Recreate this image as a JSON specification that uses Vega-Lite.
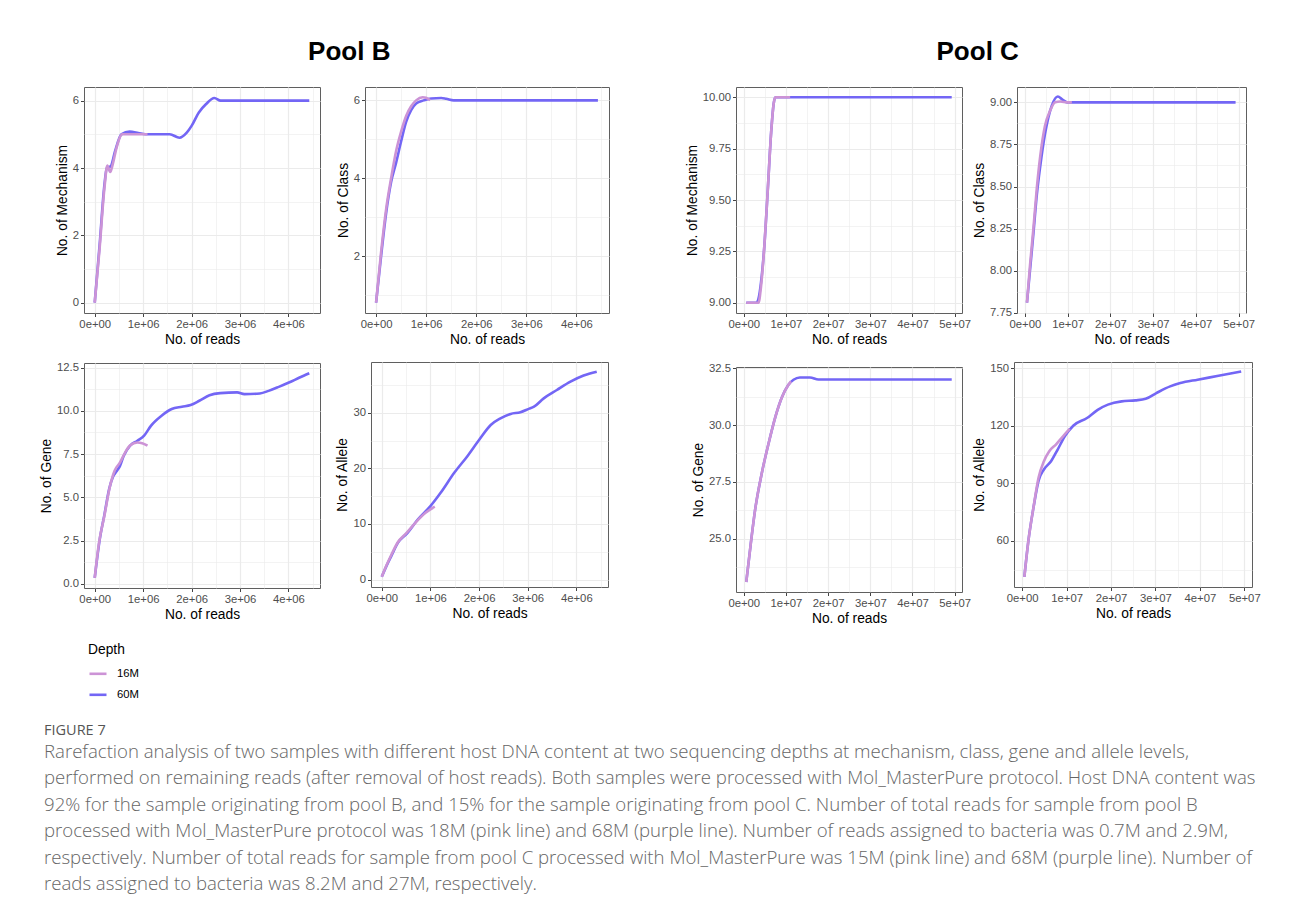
{
  "$schema": "https://vega.github.io/schema/vega-lite/v6.json",
  "padding": {"left": 39, "top": 38, "right": 5, "bottom": 5},
  "background": "white",
  "data": {"values": [
    {"pool":"B","level":"Mechanism","depth":"60M","reads":0,"count":0},
    {"pool":"B","level":"Mechanism","depth":"60M","reads":100000,"count":1.7},
    {"pool":"B","level":"Mechanism","depth":"60M","reads":200000,"count":3.5},
    {"pool":"B","level":"Mechanism","depth":"60M","reads":250000,"count":4.0},
    {"pool":"B","level":"Mechanism","depth":"60M","reads":330000,"count":4.05},
    {"pool":"B","level":"Mechanism","depth":"60M","reads":420000,"count":4.5},
    {"pool":"B","level":"Mechanism","depth":"60M","reads":550000,"count":5.0},
    {"pool":"B","level":"Mechanism","depth":"60M","reads":720000,"count":5.08},
    {"pool":"B","level":"Mechanism","depth":"60M","reads":900000,"count":5.04},
    {"pool":"B","level":"Mechanism","depth":"60M","reads":1050000,"count":5.0},
    {"pool":"B","level":"Mechanism","depth":"60M","reads":1550000,"count":5.0},
    {"pool":"B","level":"Mechanism","depth":"60M","reads":1750000,"count":4.9},
    {"pool":"B","level":"Mechanism","depth":"60M","reads":1900000,"count":5.05},
    {"pool":"B","level":"Mechanism","depth":"60M","reads":2000000,"count":5.25},
    {"pool":"B","level":"Mechanism","depth":"60M","reads":2150000,"count":5.65},
    {"pool":"B","level":"Mechanism","depth":"60M","reads":2300000,"count":5.9},
    {"pool":"B","level":"Mechanism","depth":"60M","reads":2470000,"count":6.08},
    {"pool":"B","level":"Mechanism","depth":"60M","reads":2600000,"count":6.0},
    {"pool":"B","level":"Mechanism","depth":"60M","reads":4430000,"count":6.0},
    {"pool":"B","level":"Class","depth":"60M","reads":0,"count":0.8},
    {"pool":"B","level":"Class","depth":"60M","reads":100000,"count":2.0},
    {"pool":"B","level":"Class","depth":"60M","reads":200000,"count":3.1},
    {"pool":"B","level":"Class","depth":"60M","reads":300000,"count":3.9},
    {"pool":"B","level":"Class","depth":"60M","reads":400000,"count":4.4},
    {"pool":"B","level":"Class","depth":"60M","reads":500000,"count":4.95},
    {"pool":"B","level":"Class","depth":"60M","reads":600000,"count":5.45},
    {"pool":"B","level":"Class","depth":"60M","reads":700000,"count":5.75},
    {"pool":"B","level":"Class","depth":"60M","reads":800000,"count":5.92},
    {"pool":"B","level":"Class","depth":"60M","reads":950000,"count":6.0},
    {"pool":"B","level":"Class","depth":"60M","reads":1100000,"count":6.05},
    {"pool":"B","level":"Class","depth":"60M","reads":1300000,"count":6.06},
    {"pool":"B","level":"Class","depth":"60M","reads":1400000,"count":6.04},
    {"pool":"B","level":"Class","depth":"60M","reads":1550000,"count":6.0},
    {"pool":"B","level":"Class","depth":"60M","reads":4430000,"count":6.0},
    {"pool":"B","level":"Gene","depth":"60M","reads":0,"count":0.35},
    {"pool":"B","level":"Gene","depth":"60M","reads":100000,"count":2.5},
    {"pool":"B","level":"Gene","depth":"60M","reads":200000,"count":4.0},
    {"pool":"B","level":"Gene","depth":"60M","reads":300000,"count":5.5},
    {"pool":"B","level":"Gene","depth":"60M","reads":380000,"count":6.2},
    {"pool":"B","level":"Gene","depth":"60M","reads":450000,"count":6.5},
    {"pool":"B","level":"Gene","depth":"60M","reads":520000,"count":6.8},
    {"pool":"B","level":"Gene","depth":"60M","reads":600000,"count":7.4},
    {"pool":"B","level":"Gene","depth":"60M","reads":730000,"count":7.98},
    {"pool":"B","level":"Gene","depth":"60M","reads":880000,"count":8.27},
    {"pool":"B","level":"Gene","depth":"60M","reads":1020000,"count":8.56},
    {"pool":"B","level":"Gene","depth":"60M","reads":1160000,"count":9.13},
    {"pool":"B","level":"Gene","depth":"60M","reads":1380000,"count":9.71},
    {"pool":"B","level":"Gene","depth":"60M","reads":1590000,"count":10.1},
    {"pool":"B","level":"Gene","depth":"60M","reads":1800000,"count":10.23},
    {"pool":"B","level":"Gene","depth":"60M","reads":1980000,"count":10.33},
    {"pool":"B","level":"Gene","depth":"60M","reads":2160000,"count":10.58},
    {"pool":"B","level":"Gene","depth":"60M","reads":2370000,"count":10.9},
    {"pool":"B","level":"Gene","depth":"60M","reads":2590000,"count":11.02},
    {"pool":"B","level":"Gene","depth":"60M","reads":2940000,"count":11.06},
    {"pool":"B","level":"Gene","depth":"60M","reads":3090000,"count":10.96},
    {"pool":"B","level":"Gene","depth":"60M","reads":3410000,"count":11.0},
    {"pool":"B","level":"Gene","depth":"60M","reads":3590000,"count":11.15},
    {"pool":"B","level":"Gene","depth":"60M","reads":3800000,"count":11.38},
    {"pool":"B","level":"Gene","depth":"60M","reads":4010000,"count":11.63},
    {"pool":"B","level":"Gene","depth":"60M","reads":4230000,"count":11.92},
    {"pool":"B","level":"Gene","depth":"60M","reads":4430000,"count":12.17},
    {"pool":"B","level":"Allele","depth":"60M","reads":0,"count":0.5},
    {"pool":"B","level":"Allele","depth":"60M","reads":100000,"count":2.5},
    {"pool":"B","level":"Allele","depth":"60M","reads":200000,"count":4.3},
    {"pool":"B","level":"Allele","depth":"60M","reads":330000,"count":6.6},
    {"pool":"B","level":"Allele","depth":"60M","reads":530000,"count":8.4},
    {"pool":"B","level":"Allele","depth":"60M","reads":740000,"count":10.8},
    {"pool":"B","level":"Allele","depth":"60M","reads":1000000,"count":13.2},
    {"pool":"B","level":"Allele","depth":"60M","reads":1210000,"count":15.6},
    {"pool":"B","level":"Allele","depth":"60M","reads":1490000,"count":19.2},
    {"pool":"B","level":"Allele","depth":"60M","reads":1760000,"count":22.2},
    {"pool":"B","level":"Allele","depth":"60M","reads":2000000,"count":25.1},
    {"pool":"B","level":"Allele","depth":"60M","reads":2240000,"count":27.8},
    {"pool":"B","level":"Allele","depth":"60M","reads":2440000,"count":29.0},
    {"pool":"B","level":"Allele","depth":"60M","reads":2650000,"count":29.8},
    {"pool":"B","level":"Allele","depth":"60M","reads":2850000,"count":30.1},
    {"pool":"B","level":"Allele","depth":"60M","reads":3020000,"count":30.7},
    {"pool":"B","level":"Allele","depth":"60M","reads":3130000,"count":31.1},
    {"pool":"B","level":"Allele","depth":"60M","reads":3330000,"count":32.6},
    {"pool":"B","level":"Allele","depth":"60M","reads":3600000,"count":34.1},
    {"pool":"B","level":"Allele","depth":"60M","reads":3880000,"count":35.6},
    {"pool":"B","level":"Allele","depth":"60M","reads":4150000,"count":36.7},
    {"pool":"B","level":"Allele","depth":"60M","reads":4420000,"count":37.4},
    {"pool":"C","level":"Mechanism","depth":"60M","reads":600000,"count":9.0},
    {"pool":"C","level":"Mechanism","depth":"60M","reads":3000000,"count":9.0},
    {"pool":"C","level":"Mechanism","depth":"60M","reads":3500000,"count":9.02},
    {"pool":"C","level":"Mechanism","depth":"60M","reads":4100000,"count":9.1},
    {"pool":"C","level":"Mechanism","depth":"60M","reads":4900000,"count":9.28},
    {"pool":"C","level":"Mechanism","depth":"60M","reads":5700000,"count":9.55},
    {"pool":"C","level":"Mechanism","depth":"60M","reads":6500000,"count":9.83},
    {"pool":"C","level":"Mechanism","depth":"60M","reads":7100000,"count":9.97},
    {"pool":"C","level":"Mechanism","depth":"60M","reads":7500000,"count":10.0},
    {"pool":"C","level":"Mechanism","depth":"60M","reads":49300000,"count":10.0},
    {"pool":"C","level":"Class","depth":"60M","reads":500000,"count":7.81},
    {"pool":"C","level":"Class","depth":"60M","reads":1200000,"count":8.0},
    {"pool":"C","level":"Class","depth":"60M","reads":2000000,"count":8.22},
    {"pool":"C","level":"Class","depth":"60M","reads":2800000,"count":8.45},
    {"pool":"C","level":"Class","depth":"60M","reads":3600000,"count":8.62},
    {"pool":"C","level":"Class","depth":"60M","reads":4700000,"count":8.81},
    {"pool":"C","level":"Class","depth":"60M","reads":6300000,"count":8.98},
    {"pool":"C","level":"Class","depth":"60M","reads":7700000,"count":9.035},
    {"pool":"C","level":"Class","depth":"60M","reads":8800000,"count":9.016},
    {"pool":"C","level":"Class","depth":"60M","reads":9900000,"count":9.0},
    {"pool":"C","level":"Class","depth":"60M","reads":49300000,"count":9.0},
    {"pool":"C","level":"Gene","depth":"60M","reads":600000,"count":23.1},
    {"pool":"C","level":"Gene","depth":"60M","reads":1600000,"count":24.68},
    {"pool":"C","level":"Gene","depth":"60M","reads":2700000,"count":26.28},
    {"pool":"C","level":"Gene","depth":"60M","reads":4300000,"count":27.9},
    {"pool":"C","level":"Gene","depth":"60M","reads":5900000,"count":29.2},
    {"pool":"C","level":"Gene","depth":"60M","reads":7500000,"count":30.36},
    {"pool":"C","level":"Gene","depth":"60M","reads":9000000,"count":31.2},
    {"pool":"C","level":"Gene","depth":"60M","reads":10600000,"count":31.77},
    {"pool":"C","level":"Gene","depth":"60M","reads":11800000,"count":31.99},
    {"pool":"C","level":"Gene","depth":"60M","reads":13300000,"count":32.09},
    {"pool":"C","level":"Gene","depth":"60M","reads":15700000,"count":32.09},
    {"pool":"C","level":"Gene","depth":"60M","reads":17700000,"count":32.0},
    {"pool":"C","level":"Gene","depth":"60M","reads":49300000,"count":32.0},
    {"pool":"C","level":"Allele","depth":"60M","reads":500000,"count":41.3},
    {"pool":"C","level":"Allele","depth":"60M","reads":1400000,"count":60},
    {"pool":"C","level":"Allele","depth":"60M","reads":2600000,"count":78},
    {"pool":"C","level":"Allele","depth":"60M","reads":3700000,"count":91.4},
    {"pool":"C","level":"Allele","depth":"60M","reads":4900000,"count":97.2},
    {"pool":"C","level":"Allele","depth":"60M","reads":6500000,"count":101.5},
    {"pool":"C","level":"Allele","depth":"60M","reads":8000000,"count":107.6},
    {"pool":"C","level":"Allele","depth":"60M","reads":9600000,"count":114.5},
    {"pool":"C","level":"Allele","depth":"60M","reads":11500000,"count":120},
    {"pool":"C","level":"Allele","depth":"60M","reads":14600000,"count":124},
    {"pool":"C","level":"Allele","depth":"60M","reads":17000000,"count":128.3},
    {"pool":"C","level":"Allele","depth":"60M","reads":19300000,"count":131},
    {"pool":"C","level":"Allele","depth":"60M","reads":22400000,"count":132.7},
    {"pool":"C","level":"Allele","depth":"60M","reads":25500000,"count":133.2},
    {"pool":"C","level":"Allele","depth":"60M","reads":27800000,"count":134},
    {"pool":"C","level":"Allele","depth":"60M","reads":30200000,"count":137},
    {"pool":"C","level":"Allele","depth":"60M","reads":33300000,"count":140.5},
    {"pool":"C","level":"Allele","depth":"60M","reads":35600000,"count":142.2},
    {"pool":"C","level":"Allele","depth":"60M","reads":39500000,"count":144},
    {"pool":"C","level":"Allele","depth":"60M","reads":44200000,"count":146},
    {"pool":"C","level":"Allele","depth":"60M","reads":49300000,"count":148.3},
    {"pool":"B","level":"Mechanism","depth":"16M","reads":0,"count":0},
    {"pool":"B","level":"Mechanism","depth":"16M","reads":100000,"count":1.6},
    {"pool":"B","level":"Mechanism","depth":"16M","reads":200000,"count":3.4},
    {"pool":"B","level":"Mechanism","depth":"16M","reads":260000,"count":4.07},
    {"pool":"B","level":"Mechanism","depth":"16M","reads":320000,"count":3.88},
    {"pool":"B","level":"Mechanism","depth":"16M","reads":370000,"count":4.1},
    {"pool":"B","level":"Mechanism","depth":"16M","reads":450000,"count":4.6},
    {"pool":"B","level":"Mechanism","depth":"16M","reads":570000,"count":5.0},
    {"pool":"B","level":"Mechanism","depth":"16M","reads":1090000,"count":5.0},
    {"pool":"B","level":"Class","depth":"16M","reads":0,"count":0.8},
    {"pool":"B","level":"Class","depth":"16M","reads":100000,"count":2.1},
    {"pool":"B","level":"Class","depth":"16M","reads":200000,"count":3.2},
    {"pool":"B","level":"Class","depth":"16M","reads":300000,"count":4.0},
    {"pool":"B","level":"Class","depth":"16M","reads":400000,"count":4.7},
    {"pool":"B","level":"Class","depth":"16M","reads":500000,"count":5.2},
    {"pool":"B","level":"Class","depth":"16M","reads":600000,"count":5.6},
    {"pool":"B","level":"Class","depth":"16M","reads":700000,"count":5.85},
    {"pool":"B","level":"Class","depth":"16M","reads":800000,"count":6.0},
    {"pool":"B","level":"Class","depth":"16M","reads":930000,"count":6.08},
    {"pool":"B","level":"Class","depth":"16M","reads":1000000,"count":6.07},
    {"pool":"B","level":"Class","depth":"16M","reads":1080000,"count":6.0},
    {"pool":"B","level":"Gene","depth":"16M","reads":0,"count":0.35},
    {"pool":"B","level":"Gene","depth":"16M","reads":90000,"count":2.4},
    {"pool":"B","level":"Gene","depth":"16M","reads":200000,"count":3.94},
    {"pool":"B","level":"Gene","depth":"16M","reads":310000,"count":5.58},
    {"pool":"B","level":"Gene","depth":"16M","reads":410000,"count":6.54},
    {"pool":"B","level":"Gene","depth":"16M","reads":520000,"count":7.0},
    {"pool":"B","level":"Gene","depth":"16M","reads":630000,"count":7.6},
    {"pool":"B","level":"Gene","depth":"16M","reads":730000,"count":8.0},
    {"pool":"B","level":"Gene","depth":"16M","reads":880000,"count":8.17},
    {"pool":"B","level":"Gene","depth":"16M","reads":980000,"count":8.13},
    {"pool":"B","level":"Gene","depth":"16M","reads":1090000,"count":7.98},
    {"pool":"B","level":"Allele","depth":"16M","reads":0,"count":0.5},
    {"pool":"B","level":"Allele","depth":"16M","reads":100000,"count":2.6},
    {"pool":"B","level":"Allele","depth":"16M","reads":200000,"count":4.5},
    {"pool":"B","level":"Allele","depth":"16M","reads":330000,"count":6.7},
    {"pool":"B","level":"Allele","depth":"16M","reads":500000,"count":8.3},
    {"pool":"B","level":"Allele","depth":"16M","reads":700000,"count":10.3},
    {"pool":"B","level":"Allele","depth":"16M","reads":900000,"count":12.0},
    {"pool":"B","level":"Allele","depth":"16M","reads":1090000,"count":13.1},
    {"pool":"C","level":"Mechanism","depth":"16M","reads":600000,"count":9.0},
    {"pool":"C","level":"Mechanism","depth":"16M","reads":3500000,"count":9.0},
    {"pool":"C","level":"Mechanism","depth":"16M","reads":4100000,"count":9.08},
    {"pool":"C","level":"Mechanism","depth":"16M","reads":4900000,"count":9.28},
    {"pool":"C","level":"Mechanism","depth":"16M","reads":5700000,"count":9.55},
    {"pool":"C","level":"Mechanism","depth":"16M","reads":6500000,"count":9.83},
    {"pool":"C","level":"Mechanism","depth":"16M","reads":7100000,"count":9.97},
    {"pool":"C","level":"Mechanism","depth":"16M","reads":7500000,"count":10.0},
    {"pool":"C","level":"Mechanism","depth":"16M","reads":11000000,"count":10.0},
    {"pool":"C","level":"Class","depth":"16M","reads":500000,"count":7.81},
    {"pool":"C","level":"Class","depth":"16M","reads":1200000,"count":8.03},
    {"pool":"C","level":"Class","depth":"16M","reads":2000000,"count":8.25},
    {"pool":"C","level":"Class","depth":"16M","reads":2800000,"count":8.49},
    {"pool":"C","level":"Class","depth":"16M","reads":3600000,"count":8.68},
    {"pool":"C","level":"Class","depth":"16M","reads":4700000,"count":8.86},
    {"pool":"C","level":"Class","depth":"16M","reads":5900000,"count":8.95},
    {"pool":"C","level":"Class","depth":"16M","reads":7100000,"count":9.0},
    {"pool":"C","level":"Class","depth":"16M","reads":8300000,"count":9.005},
    {"pool":"C","level":"Class","depth":"16M","reads":9900000,"count":9.0},
    {"pool":"C","level":"Class","depth":"16M","reads":11000000,"count":9.0},
    {"pool":"C","level":"Gene","depth":"16M","reads":600000,"count":23.1},
    {"pool":"C","level":"Gene","depth":"16M","reads":1600000,"count":24.68},
    {"pool":"C","level":"Gene","depth":"16M","reads":2700000,"count":26.28},
    {"pool":"C","level":"Gene","depth":"16M","reads":4300000,"count":27.9},
    {"pool":"C","level":"Gene","depth":"16M","reads":5900000,"count":29.2},
    {"pool":"C","level":"Gene","depth":"16M","reads":7500000,"count":30.36},
    {"pool":"C","level":"Gene","depth":"16M","reads":9000000,"count":31.2},
    {"pool":"C","level":"Gene","depth":"16M","reads":10600000,"count":31.77},
    {"pool":"C","level":"Gene","depth":"16M","reads":11200000,"count":31.92},
    {"pool":"C","level":"Allele","depth":"16M","reads":500000,"count":41.3},
    {"pool":"C","level":"Allele","depth":"16M","reads":1400000,"count":60},
    {"pool":"C","level":"Allele","depth":"16M","reads":2600000,"count":78.2},
    {"pool":"C","level":"Allele","depth":"16M","reads":3700000,"count":93},
    {"pool":"C","level":"Allele","depth":"16M","reads":4900000,"count":101.5},
    {"pool":"C","level":"Allele","depth":"16M","reads":6100000,"count":106.7},
    {"pool":"C","level":"Allele","depth":"16M","reads":7600000,"count":110.2},
    {"pool":"C","level":"Allele","depth":"16M","reads":9200000,"count":114.5},
    {"pool":"C","level":"Allele","depth":"16M","reads":10700000,"count":118.3}
  ]},
  "title": {
    "text": "FIGURE 7",
    "subtitle": [
      "Rarefaction analysis of two samples with different host DNA content at two sequencing depths at mechanism, class, gene and allele levels,",
      "performed on remaining reads (after removal of host reads). Both samples were processed with Mol_MasterPure protocol. Host DNA content was",
      "92% for the sample originating from pool B, and 15% for the sample originating from pool C. Number of total reads for sample from pool B",
      "processed with Mol_MasterPure protocol was 18M (pink line) and 68M (purple line). Number of reads assigned to bacteria was 0.7M and 2.9M,",
      "respectively. Number of total reads for sample from pool C processed with Mol_MasterPure was 15M (pink line) and 68M (purple line). Number of",
      "reads assigned to bacteria was 8.2M and 27M, respectively."
    ],
    "orient": "bottom",
    "anchor": "start",
    "dx": 5,
    "font": "Open Sans",
    "fontSize": 14.5,
    "fontWeight": "normal",
    "color": "#555555",
    "subtitleFont": "Open Sans",
    "subtitleFontSize": 18.6,
    "subtitleFontWeight": 300,
    "subtitleColor": "#666666",
    "subtitleLineHeight": 26.5,
    "subtitlePadding": 4,
    "offset": 23
  },
  "spacing": 74,
  "hconcat": [
    {
      "title": {"text": "Pool B", "font": "Liberation Sans", "fontSize": 26, "fontWeight": "bold", "anchor": "middle", "dx": 25, "offset": 22, "color": "#000000"},
      "columns": 2,
      "align": "none",
      "spacing": {"row": 13, "column": 14},
      "concat": [
        {
          "width": 236, "height": 226,
          "transform": [{"filter": "datum.pool == 'B' && datum.level == 'Mechanism'"}],
          "mark": {"type": "line", "interpolate": "monotone", "strokeWidth": 2.6, "clip": true},
          "encoding": {
            "x": {"field": "reads", "type": "quantitative", "scale": {"domain": [-221500, 4651500], "nice": false, "zero": false},
              "axis": {"title": "No. of reads", "values": [0, 500000, 1000000, 1500000, 2000000, 2500000, 3000000, 3500000, 4000000, 4500000],
                "labelExpr": "datum.value % 1000000 != 0 ? '' : replace(format(datum.value, '.0e'), 'e+', 'e+0')",
                "tickOpacity": {"condition": {"test": "datum.value % 1000000 != 0", "value": 0}, "value": 1},
                "gridWidth": {"condition": {"test": "datum.value % 1000000 != 0", "value": 0.6}, "value": 1.2}}},
            "y": {"field": "count", "type": "quantitative", "scale": {"domain": [-0.305, 6.405], "nice": false, "zero": false},
              "axis": {"title": "No. of Mechanism", "values": [0, 1, 2, 3, 4, 5, 6],
                "labelExpr": "datum.value % 2 != 0 ? '' : format(datum.value, 'd')",
                "tickOpacity": {"condition": {"test": "datum.value % 2 != 0", "value": 0}, "value": 1},
                "gridWidth": {"condition": {"test": "datum.value % 2 != 0", "value": 0.6}, "value": 1.2}}},
            "color": {"field": "depth", "type": "nominal", "scale": {"domain": ["16M", "60M"], "range": ["#CC93D6", "#7366F5"]},
              "legend": {"title": "Depth", "orient": "none", "legendX": 4, "legendY": 556}}
          }
        },
        {
          "width": 244, "height": 226,
          "transform": [{"filter": "datum.pool == 'B' && datum.level == 'Class'"}],
          "mark": {"type": "line", "interpolate": "monotone", "strokeWidth": 2.6, "clip": true},
          "encoding": {
            "x": {"field": "reads", "type": "quantitative", "scale": {"domain": [-221500, 4651500], "nice": false, "zero": false},
              "axis": {"title": "No. of reads", "values": [0, 500000, 1000000, 1500000, 2000000, 2500000, 3000000, 3500000, 4000000, 4500000],
                "labelExpr": "datum.value % 1000000 != 0 ? '' : replace(format(datum.value, '.0e'), 'e+', 'e+0')",
                "tickOpacity": {"condition": {"test": "datum.value % 1000000 != 0", "value": 0}, "value": 1},
                "gridWidth": {"condition": {"test": "datum.value % 1000000 != 0", "value": 0.6}, "value": 1.2}}},
            "y": {"field": "count", "type": "quantitative", "scale": {"domain": [0.536, 6.344], "nice": false, "zero": false},
              "axis": {"title": "No. of Class", "values": [1, 2, 3, 4, 5, 6],
                "labelExpr": "datum.value % 2 != 0 ? '' : format(datum.value, 'd')",
                "tickOpacity": {"condition": {"test": "datum.value % 2 != 0", "value": 0}, "value": 1},
                "gridWidth": {"condition": {"test": "datum.value % 2 != 0", "value": 0.6}, "value": 1.2}}},
            "color": {"field": "depth", "type": "nominal", "scale": {"domain": ["16M", "60M"], "range": ["#CC93D6", "#7366F5"]},
              "legend": {"title": "Depth", "orient": "none", "legendX": 4, "legendY": 556}}
          }
        },
        {
          "width": 236, "height": 225,
          "transform": [{"filter": "datum.pool == 'B' && datum.level == 'Gene'"}],
          "mark": {"type": "line", "interpolate": "monotone", "strokeWidth": 2.6, "clip": true},
          "encoding": {
            "x": {"field": "reads", "type": "quantitative", "scale": {"domain": [-221500, 4651500], "nice": false, "zero": false},
              "axis": {"title": "No. of reads", "values": [0, 500000, 1000000, 1500000, 2000000, 2500000, 3000000, 3500000, 4000000, 4500000],
                "labelExpr": "datum.value % 1000000 != 0 ? '' : replace(format(datum.value, '.0e'), 'e+', 'e+0')",
                "tickOpacity": {"condition": {"test": "datum.value % 1000000 != 0", "value": 0}, "value": 1},
                "gridWidth": {"condition": {"test": "datum.value % 1000000 != 0", "value": 0.6}, "value": 1.2}}},
            "y": {"field": "count", "type": "quantitative", "scale": {"domain": [-0.24, 12.76], "nice": false, "zero": false},
              "axis": {"title": "No. of Gene", "values": [0, 1.25, 2.5, 3.75, 5, 6.25, 7.5, 8.75, 10, 11.25, 12.5],
                "labelExpr": "datum.value % 2.5 != 0 ? '' : format(datum.value, '.1f')",
                "tickOpacity": {"condition": {"test": "datum.value % 2.5 != 0", "value": 0}, "value": 1},
                "gridWidth": {"condition": {"test": "datum.value % 2.5 != 0", "value": 0.6}, "value": 1.2}}},
            "color": {"field": "depth", "type": "nominal", "scale": {"domain": ["16M", "60M"], "range": ["#CC93D6", "#7366F5"]},
              "legend": {"title": "Depth", "orient": "none", "legendX": 4, "legendY": 556}}
          }
        },
        {
          "width": 237, "height": 225,
          "transform": [{"filter": "datum.pool == 'B' && datum.level == 'Allele'"}],
          "mark": {"type": "line", "interpolate": "monotone", "strokeWidth": 2.6, "clip": true},
          "encoding": {
            "x": {"field": "reads", "type": "quantitative", "scale": {"domain": [-221500, 4651500], "nice": false, "zero": false},
              "axis": {"title": "No. of reads", "values": [0, 500000, 1000000, 1500000, 2000000, 2500000, 3000000, 3500000, 4000000, 4500000],
                "labelExpr": "datum.value % 1000000 != 0 ? '' : replace(format(datum.value, '.0e'), 'e+', 'e+0')",
                "tickOpacity": {"condition": {"test": "datum.value % 1000000 != 0", "value": 0}, "value": 1},
                "gridWidth": {"condition": {"test": "datum.value % 1000000 != 0", "value": 0.6}, "value": 1.2}}},
            "y": {"field": "count", "type": "quantitative", "scale": {"domain": [-1.34, 39.14], "nice": false, "zero": false},
              "axis": {"title": "No. of Allele", "values": [0, 5, 10, 15, 20, 25, 30, 35],
                "labelExpr": "datum.value % 10 != 0 ? '' : format(datum.value, 'd')",
                "tickOpacity": {"condition": {"test": "datum.value % 10 != 0", "value": 0}, "value": 1},
                "gridWidth": {"condition": {"test": "datum.value % 10 != 0", "value": 0.6}, "value": 1.2}}},
            "color": {"field": "depth", "type": "nominal", "scale": {"domain": ["16M", "60M"], "range": ["#CC93D6", "#7366F5"]},
              "legend": {"title": "Depth", "orient": "none", "legendX": 4, "legendY": 556}}
          }
        }
      ]
    },
    {
      "title": {"text": "Pool C", "font": "Liberation Sans", "fontSize": 26, "fontWeight": "bold", "anchor": "middle", "dx": 5, "offset": 22, "color": "#000000"},
      "columns": 2,
      "align": "none",
      "spacing": {"row": 13, "column": 0},
      "concat": [
        {
          "width": 226, "height": 226,
          "transform": [{"filter": "datum.pool == 'C' && datum.level == 'Mechanism'"}],
          "mark": {"type": "line", "interpolate": "monotone", "strokeWidth": 2.6, "clip": true},
          "encoding": {
            "x": {"field": "reads", "type": "quantitative", "scale": {"domain": [-1835000, 51735000], "nice": false, "zero": false},
              "axis": {"title": "No. of reads", "values": [0, 5000000, 10000000, 15000000, 20000000, 25000000, 30000000, 35000000, 40000000, 45000000, 50000000],
                "labelExpr": "datum.value % 10000000 != 0 ? '' : replace(format(datum.value, '.0e'), 'e+', 'e+0')",
                "tickOpacity": {"condition": {"test": "datum.value % 10000000 != 0", "value": 0}, "value": 1},
                "gridWidth": {"condition": {"test": "datum.value % 10000000 != 0", "value": 0.6}, "value": 1.2}}},
            "y": {"field": "count", "type": "quantitative", "scale": {"domain": [8.95, 10.05], "nice": false, "zero": false},
              "axis": {"title": "No. of Mechanism", "values": [9, 9.125, 9.25, 9.375, 9.5, 9.625, 9.75, 9.875, 10],
                "labelExpr": "datum.value % 0.25 != 0 ? '' : format(datum.value, '.2f')",
                "tickOpacity": {"condition": {"test": "datum.value % 0.25 != 0", "value": 0}, "value": 1},
                "gridWidth": {"condition": {"test": "datum.value % 0.25 != 0", "value": 0.6}, "value": 1.2}}},
            "color": {"field": "depth", "type": "nominal", "scale": {"domain": ["16M", "60M"], "range": ["#CC93D6", "#7366F5"]},
              "legend": {"title": "Depth", "orient": "none", "legendX": 4, "legendY": 556}}
          }
        },
        {
          "width": 229, "height": 226,
          "transform": [{"filter": "datum.pool == 'C' && datum.level == 'Class'"}],
          "mark": {"type": "line", "interpolate": "monotone", "strokeWidth": 2.6, "clip": true},
          "encoding": {
            "x": {"field": "reads", "type": "quantitative", "scale": {"domain": [-1835000, 51735000], "nice": false, "zero": false},
              "axis": {"title": "No. of reads", "values": [0, 5000000, 10000000, 15000000, 20000000, 25000000, 30000000, 35000000, 40000000, 45000000, 50000000],
                "labelExpr": "datum.value % 10000000 != 0 ? '' : replace(format(datum.value, '.0e'), 'e+', 'e+0')",
                "tickOpacity": {"condition": {"test": "datum.value % 10000000 != 0", "value": 0}, "value": 1},
                "gridWidth": {"condition": {"test": "datum.value % 10000000 != 0", "value": 0.6}, "value": 1.2}}},
            "y": {"field": "count", "type": "quantitative", "scale": {"domain": [7.749, 9.091], "nice": false, "zero": false},
              "axis": {"title": "No. of Class", "values": [7.75, 7.875, 8, 8.125, 8.25, 8.375, 8.5, 8.625, 8.75, 8.875, 9],
                "labelExpr": "datum.value % 0.25 != 0 ? '' : format(datum.value, '.2f')",
                "tickOpacity": {"condition": {"test": "datum.value % 0.25 != 0", "value": 0}, "value": 1},
                "gridWidth": {"condition": {"test": "datum.value % 0.25 != 0", "value": 0.6}, "value": 1.2}}},
            "color": {"field": "depth", "type": "nominal", "scale": {"domain": ["16M", "60M"], "range": ["#CC93D6", "#7366F5"]},
              "legend": {"title": "Depth", "orient": "none", "legendX": 4, "legendY": 556}}
          }
        },
        {
          "width": 226, "height": 225,
          "transform": [{"filter": "datum.pool == 'C' && datum.level == 'Gene'"}],
          "mark": {"type": "line", "interpolate": "monotone", "strokeWidth": 2.6, "clip": true},
          "encoding": {
            "x": {"field": "reads", "type": "quantitative", "scale": {"domain": [-1835000, 51735000], "nice": false, "zero": false},
              "axis": {"title": "No. of reads", "values": [0, 5000000, 10000000, 15000000, 20000000, 25000000, 30000000, 35000000, 40000000, 45000000, 50000000],
                "labelExpr": "datum.value % 10000000 != 0 ? '' : replace(format(datum.value, '.0e'), 'e+', 'e+0')",
                "tickOpacity": {"condition": {"test": "datum.value % 10000000 != 0", "value": 0}, "value": 1},
                "gridWidth": {"condition": {"test": "datum.value % 10000000 != 0", "value": 0.6}, "value": 1.2}}},
            "y": {"field": "count", "type": "quantitative", "scale": {"domain": [22.66, 32.55], "nice": false, "zero": false},
              "axis": {"title": "No. of Gene", "values": [23.75, 25, 26.25, 27.5, 28.75, 30, 31.25, 32.5],
                "labelExpr": "datum.value % 2.5 != 0 ? '' : format(datum.value, '.1f')",
                "tickOpacity": {"condition": {"test": "datum.value % 2.5 != 0", "value": 0}, "value": 1},
                "gridWidth": {"condition": {"test": "datum.value % 2.5 != 0", "value": 0.6}, "value": 1.2}}},
            "color": {"field": "depth", "type": "nominal", "scale": {"domain": ["16M", "60M"], "range": ["#CC93D6", "#7366F5"]},
              "legend": {"title": "Depth", "orient": "none", "legendX": 4, "legendY": 556}}
          }
        },
        {
          "width": 238, "height": 225,
          "transform": [{"filter": "datum.pool == 'C' && datum.level == 'Allele'"}],
          "mark": {"type": "line", "interpolate": "monotone", "strokeWidth": 2.6, "clip": true},
          "encoding": {
            "x": {"field": "reads", "type": "quantitative", "scale": {"domain": [-1835000, 51735000], "nice": false, "zero": false},
              "axis": {"title": "No. of reads", "values": [0, 5000000, 10000000, 15000000, 20000000, 25000000, 30000000, 35000000, 40000000, 45000000, 50000000],
                "labelExpr": "datum.value % 10000000 != 0 ? '' : replace(format(datum.value, '.0e'), 'e+', 'e+0')",
                "tickOpacity": {"condition": {"test": "datum.value % 10000000 != 0", "value": 0}, "value": 1},
                "gridWidth": {"condition": {"test": "datum.value % 10000000 != 0", "value": 0.6}, "value": 1.2}}},
            "y": {"field": "count", "type": "quantitative", "scale": {"domain": [35.97, 153.2], "nice": false, "zero": false},
              "axis": {"title": "No. of Allele", "values": [45, 60, 75, 90, 105, 120, 135, 150],
                "labelExpr": "datum.value % 30 != 0 ? '' : format(datum.value, 'd')",
                "tickOpacity": {"condition": {"test": "datum.value % 30 != 0", "value": 0}, "value": 1},
                "gridWidth": {"condition": {"test": "datum.value % 30 != 0", "value": 0.6}, "value": 1.2}}},
            "color": {"field": "depth", "type": "nominal", "scale": {"domain": ["16M", "60M"], "range": ["#CC93D6", "#7366F5"]},
              "legend": {"title": "Depth", "orient": "none", "legendX": 4, "legendY": 556}}
          }
        }
      ]
    }
  ],
  "config": {
    "font": "Liberation Sans",
    "view": {"stroke": "#5f5f5f", "strokeWidth": 1},
    "axis": {
      "domain": false, "grid": true, "gridColor": "#EBEBEB",
      "tickColor": "#444444", "tickSize": 3.5, "tickWidth": 1,
      "labelFont": "Liberation Sans", "labelFontSize": 11.3, "labelColor": "#4D4D4D", "labelPadding": 2,
      "labelOverlap": false, "labelFlush": false, "labelBound": false,
      "titleFont": "Liberation Sans", "titleFontSize": 13.8, "titleFontWeight": "normal", "titleColor": "#000000", "titlePadding": 3
    },
    "legend": {
      "titleFont": "Liberation Sans", "titleFontSize": 13.8, "titleFontWeight": "normal", "titleColor": "#000000", "titlePadding": 7,
      "labelFont": "Liberation Sans", "labelFontSize": 11.3, "labelColor": "#000000", "labelOffset": 9,
      "symbolType": "stroke", "symbolSize": 289, "symbolStrokeWidth": 2.6, "rowPadding": 5
    }
  }
}
